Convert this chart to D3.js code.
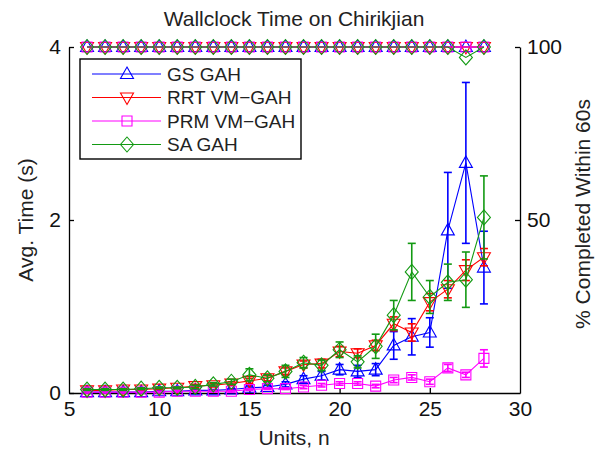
<!DOCTYPE html>
<html>
<head>
<meta charset="utf-8">
<script src="https://cdn.jsdelivr.net/npm/d3@7"></script>
<style>
  body { margin: 0; background: #fff; }
  svg { display: block; font-family: "Liberation Sans", Arial, sans-serif; }
</style>
</head>
<body>
<svg id="chart" width="598" height="456"></svg>
<script>
// x values (number of units)
const units = [6, 7, 8, 9, 10, 11, 12, 13, 14, 15, 16, 17, 18, 19, 20, 21, 22, 23, 24, 25, 26, 27, 28];

// average wallclock time (s) and error bar half widths
const gsTime  = [0.01, 0.01, 0.01, 0.01, 0.02, 0.02, 0.03, 0.03, 0.04, 0.06, 0.07, 0.10, 0.16, 0.20, 0.27, 0.25, 0.27, 0.55, 0.65, 0.70, 1.88, 2.66, 1.45];
const gsErr   = [0.01, 0.01, 0.01, 0.01, 0.01, 0.01, 0.01, 0.01, 0.01, 0.02, 0.02, 0.03, 0.04, 0.05, 0.06, 0.07, 0.07, 0.16, 0.21, 0.17, 0.67, 0.93, 0.42];
const rrtTime = [0.03, 0.03, 0.04, 0.04, 0.05, 0.06, 0.08, 0.09, 0.11, 0.14, 0.17, 0.25, 0.33, 0.34, 0.48, 0.46, 0.55, 0.80, 0.70, 1.05, 1.20, 1.42, 1.57];
const rrtErr  = [0.01, 0.01, 0.01, 0.01, 0.01, 0.01, 0.02, 0.02, 0.02, 0.03, 0.03, 0.04, 0.04, 0.05, 0.06, 0.05, 0.06, 0.08, 0.10, 0.10, 0.10, 0.12, 0.10];
const prmTime = [0.01, 0.01, 0.01, 0.01, 0.01, 0.02, 0.02, 0.02, 0.02, 0.04, 0.05, 0.05, 0.07, 0.09, 0.11, 0.11, 0.08, 0.15, 0.18, 0.13, 0.29, 0.21, 0.40];
const prmErr  = [0.01, 0.01, 0.01, 0.01, 0.01, 0.01, 0.01, 0.01, 0.01, 0.01, 0.01, 0.01, 0.02, 0.02, 0.02, 0.02, 0.02, 0.03, 0.03, 0.03, 0.04, 0.03, 0.10];
const saTime  = [0.04, 0.04, 0.04, 0.05, 0.06, 0.06, 0.07, 0.10, 0.13, 0.21, 0.17, 0.25, 0.35, 0.32, 0.50, 0.36, 0.54, 0.90, 1.40, 1.11, 1.28, 1.31, 2.03];
const saErr   = [0.01, 0.01, 0.01, 0.01, 0.01, 0.01, 0.02, 0.02, 0.03, 0.07, 0.04, 0.07, 0.06, 0.06, 0.09, 0.07, 0.14, 0.17, 0.33, 0.19, 0.21, 0.32, 0.48];

// percent completed within 60s (right axis)
const gsPct  = [100, 100, 100, 100, 100, 100, 100, 100, 100, 100, 100, 100, 100, 100, 100, 100, 100, 100, 100, 100, 100, 100, 100];
const rrtPct = [100, 100, 100, 100, 100, 100, 100, 100, 100, 100, 100, 100, 100, 100, 100, 100, 100, 100, 100, 100, 100, 100, 100];
const prmPct = [100, 100, 100, 100, 100, 100, 100, 100, 100, 100, 100, 100, 100, 100, 100, 100, 100, 100, 100, 100, 100, 100, 100];
const saPct  = [100, 100, 100, 100, 100, 100, 100, 100, 100, 100, 100, 100, 100, 100, 100, 100, 100, 100, 100, 100, 100, 97, 100];

const seriesNames = ["GS GAH", "RRT VM\u2212GAH", "PRM VM\u2212GAH", "SA GAH"];
const xTicks = [5, 10, 15, 20, 25, 30];
const leftTicks = [0, 2, 4];
const rightTicks = [50, 100];

const series = [
  { name: seriesNames[0], time: gsTime,  err: gsErr,  pct: gsPct,  color: "#0000ff", shape: "up" },
  { name: seriesNames[1], time: rrtTime, err: rrtErr, pct: rrtPct, color: "#ff0000", shape: "down" },
  { name: seriesNames[2], time: prmTime, err: prmErr, pct: prmPct, color: "#ff00ff", shape: "square" },
  { name: seriesNames[3], time: saTime,  err: saErr,  pct: saPct,  color: "#139a13", shape: "diamond" }
];

const svg = d3.select("#chart");

const x = d3.scaleLinear().domain([5, 30]).range([69, 520]);
const yL = d3.scaleLinear().domain([0, 4]).range([393, 47]);
const yR = d3.scaleLinear().domain([0, 100]).range([393, 47]);

function markerPath(shape) {
  if (shape === "up") return "M0,-7L6.5,4.5L-6.5,4.5Z";
  if (shape === "down") return "M0,7L6.5,-4.5L-6.5,-4.5Z";
  if (shape === "square") return "M-5,-5H5V5H-5Z";
  return "M0,-7.5L6.5,0L0,7.5L-6.5,0Z";
}

// axes
const xAxis = svg.append("g")
  .attr("transform", "translate(0,393)")
  .call(d3.axisBottom(x).tickValues(xTicks).tickFormat(d3.format("d")).tickSizeInner(-5).tickSizeOuter(0).tickPadding(5));
const leftAxis = svg.append("g")
  .attr("transform", "translate(69,0)")
  .call(d3.axisLeft(yL).tickValues(leftTicks).tickFormat(d3.format("d")).tickSizeInner(-5).tickSizeOuter(0).tickPadding(8));
const rightAxis = svg.append("g")
  .attr("transform", "translate(520,0)")
  .call(d3.axisRight(yR).tickValues(rightTicks).tickFormat(d3.format("d")).tickSizeInner(-5).tickSizeOuter(0).tickPadding(7));

[xAxis, leftAxis, rightAxis].forEach((a) => {
  a.selectAll("path, line").attr("stroke", "#000").attr("stroke-width", 1.3);
  a.selectAll("text").style("font-size", "21px").attr("fill", "#111");
});
xAxis.selectAll("text").attr("dy", "0.85em");
// the x ticks at the ends would sit on the y axes
xAxis.selectAll(".tick line").filter((d) => d === 5 || d === 30).remove();

const plot = svg.append("g");

const lineL = d3.line().x((d) => x(d[0])).y((d) => yL(d[1]));
const lineR = d3.line().x((d) => x(d[0])).y((d) => yR(d[1]));

series.forEach((s) => {
  const pts = units.map((u, i) => [u, s.time[i], s.err[i]]);
  const g = plot.append("g").attr("stroke", s.color).attr("fill", "none").attr("stroke-width", 1.1);

  g.append("path").datum(pts).attr("d", lineL);

  // error bars
  pts.forEach((d) => {
    const cx = x(d[0]);
    const y0 = yL(Math.max(0, d[1] - d[2]));
    const y1 = yL(d[1] + d[2]);
    g.append("line").attr("x1", cx).attr("x2", cx).attr("y1", y0).attr("y2", y1).attr("stroke-width", 1.6);
    g.append("line").attr("x1", cx - 4).attr("x2", cx + 4).attr("y1", y0).attr("y2", y0).attr("stroke-width", 1.6);
    g.append("line").attr("x1", cx - 4).attr("x2", cx + 4).attr("y1", y1).attr("y2", y1).attr("stroke-width", 1.6);
  });

  g.selectAll(".m").data(pts).enter().append("path")
    .attr("d", markerPath(s.shape))
    .attr("transform", (d) => "translate(" + x(d[0]) + "," + yL(d[1]) + ")");
});

// percent completed, on the right axis
series.forEach((s) => {
  const pts = units.map((u, i) => [u, s.pct[i]]);
  const g = plot.append("g").attr("stroke", s.color).attr("fill", "none").attr("stroke-width", 1.1);
  g.append("path").datum(pts).attr("d", lineR);
  g.selectAll(".m").data(pts).enter().append("path")
    .attr("d", markerPath(s.shape))
    .attr("transform", (d) => "translate(" + x(d[0]) + "," + yR(d[1]) + ")");
});

// titles
svg.append("text").attr("x", 294).attr("y", 26).attr("text-anchor", "middle")
  .style("font-size", "21px").attr("fill", "#222").text("Wallclock Time on Chirikjian");
svg.append("text").attr("x", 294).attr("y", 445).attr("text-anchor", "middle")
  .style("font-size", "21px").attr("fill", "#222").text("Units, n");
svg.append("text").attr("transform", "translate(33,220) rotate(-90)").attr("text-anchor", "middle")
  .style("font-size", "21px").attr("fill", "#222").text("Avg. Time (s)");
svg.append("text").attr("transform", "translate(590,214) rotate(-90)").attr("text-anchor", "middle")
  .style("font-size", "21px").attr("fill", "#222").text("% Completed Within 60s");

// legend
const legend = svg.append("g").attr("transform", "translate(80,59)");
legend.append("rect").attr("width", 221).attr("height", 100)
  .attr("fill", "#fff").attr("stroke", "#000").attr("stroke-width", 1.4);
const entries = legend.selectAll(".legendEntry").data(series).enter().append("g")
  .attr("class", "legendEntry")
  .attr("transform", (d, i) => "translate(0," + (15 + i * 23.5) + ")");
entries.append("line").attr("x1", 12).attr("x2", 81).attr("stroke", (d) => d.color).attr("stroke-width", 1.2);
entries.append("path").attr("d", (d) => markerPath(d.shape)).attr("transform", "translate(47,0)")
  .attr("fill", "none").attr("stroke", (d) => d.color).attr("stroke-width", 1.1);
entries.append("text").attr("x", 87).attr("dy", "0.36em").style("font-size", "19px").attr("fill", "#222")
  .text((d) => d.name);
</script>
</body>
</html>
